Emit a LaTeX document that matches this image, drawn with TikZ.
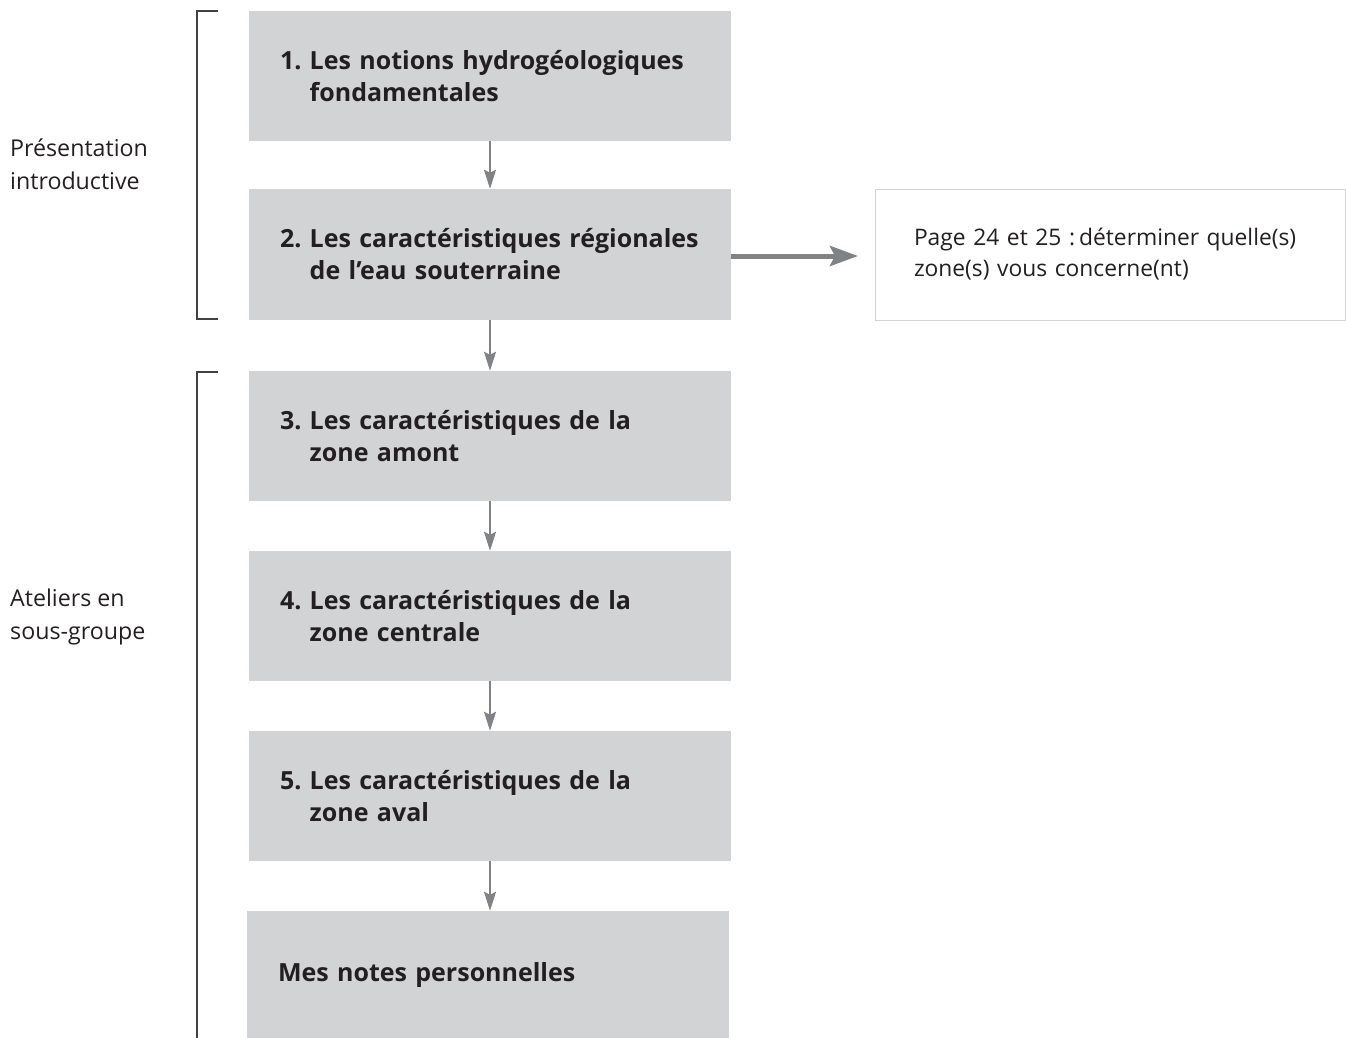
\documentclass[tikz,border=0pt]{standalone}
\usepackage{fontspec}
\setmainfont{Open Sans}
\usetikzlibrary{arrows.meta}
\definecolor{boxgray}{HTML}{D1D3D4}
\definecolor{arrgray}{HTML}{808285}
\definecolor{txt}{HTML}{231F20}
\definecolor{brk}{HTML}{414042}
\begin{document}
\begin{tikzpicture}[x=1pt,y=-1pt,
  stepbox/.style={fill=boxgray, draw=none, minimum width=482pt, minimum height=130pt,
    inner xsep=31pt, inner ysep=0pt, text width=420pt, align=left, text=txt,
    font=\fontsize{25}{32}\selectfont\bfseries},
  notebox/.style={fill=white, draw=boxgray, line width=1pt, minimum width=470pt, minimum height=131pt,
    inner xsep=39pt, inner ysep=0pt, text width=392pt, align=left, text=txt,
    font=\fontsize{22.8}{31}\selectfont},
  sidelabel/.style={anchor=west, align=left, text=txt, inner sep=0pt,
    font=\fontsize{23.2}{33}\selectfont},
  sarrow/.style={draw=arrgray, line width=2pt, -{Stealth[length=19pt,width=12pt,inset=3pt]}},
  barrow/.style={draw=arrgray, line width=5pt, -{Stealth[length=28pt,width=20pt,inset=5pt]}},
  bracket/.style={draw=brk, line width=1.3pt}
]
\useasboundingbox (0,0) rectangle (1346,1038);

\node[stepbox] (b1) at (490,76) {1.~Les notions hydrogéologiques\\\phantom{1.~}fondamentales};
\node[stepbox, minimum height=131pt] (b2) at (490,254.5) {2.~Les caractéristiques régionales\\\phantom{2.~}de l’eau souterraine};
\node[stepbox] (b3) at (490,436) {3.~Les caractéristiques de la\\\phantom{3.~}zone amont};
\node[stepbox] (b4) at (490,616) {4.~Les caractéristiques de la\\\phantom{4.~}zone centrale};
\node[stepbox] (b5) at (490,796) {5.~Les caractéristiques de la\\\phantom{5.~}zone aval};
\node[stepbox, minimum height=127pt] (b6) at (488,974.5) {Mes notes personnelles};

\node[notebox] (note) at (1110,254.5) {Page 24 et 25 :\hspace{4pt}déterminer quelle(s)\\zone(s) vous concerne(nt)};

\node[sidelabel] (lab1) at (10,164) {Présentation\\introductive};
\node[sidelabel] (lab2) at (10,617) {Ateliers en\\sous-groupe};

\draw[sarrow] (b1.south) -- (b2.north);
\draw[sarrow] (b2.south) -- (b3.north);
\draw[sarrow] (b3.south) -- (b4.north);
\draw[sarrow] (b4.south) -- (b5.north);
\draw[sarrow] (b5.south) -- (b5.south |- b6.north);

\coordinate (tipnote) at (858,256);
\draw[barrow] (b2.east |- tipnote) -- (tipnote);

\coordinate (k1a) at (218,11);
\coordinate (k1b) at (197,11);
\coordinate (k1c) at (197,319);
\coordinate (k1d) at (218,319);
\draw[bracket] (k1a) -- (k1b) -- (k1c) -- (k1d);

\coordinate (k2a) at (218,372);
\coordinate (k2b) at (197,372);
\coordinate (k2c) at (197,1038);
\draw[bracket] (k2a) -- (k2b) -- (k2c);
\end{tikzpicture}
\end{document}
